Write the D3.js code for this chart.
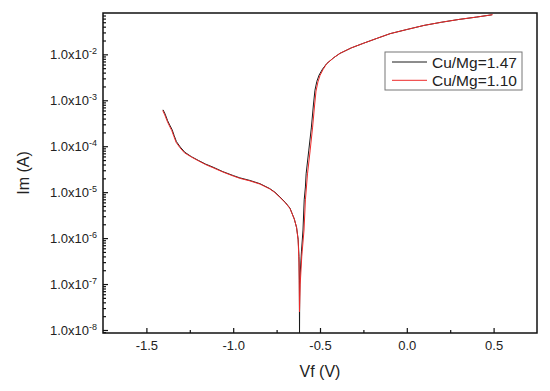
<!DOCTYPE html>
<html lang="en">
<head>
    <meta charset="UTF-8">
    <script src="https://d3js.org/d3.v7.min.js"></script>
    <style>
        body { margin: 0; background: #fff; }
        svg { font-family: "Liberation Sans", Arial, sans-serif; }
    </style>
</head>
<body>
    <svg width="550" height="391"></svg>
    <script>
        // black curve, Cu/Mg=1.47
        var vBlack = [-1.404, -1.392, -1.378, -1.366, -1.352, -1.340, -1.327, -1.305, -1.279, -1.24, -1.20, -1.16, -1.116, -1.06, -1.00, -0.962, -0.904, -0.846, -0.79, -0.76, -0.731, -0.700, -0.673, -0.648, -0.635, -0.626, -0.621, -0.619, -0.618,
                      -0.617, -0.616, -0.607, -0.598, -0.591, -0.584, -0.580, -0.565, -0.550, -0.538, -0.529, -0.518, -0.505, -0.485, -0.461, -0.42, -0.385, -0.32, -0.25, -0.17, -0.096, 0.0, 0.1, 0.2, 0.3, 0.4, 0.49];
        var iBlack = [6.2e-4, 5.0e-4, 3.6e-4, 2.9e-4, 2.3e-4, 1.7e-4, 1.26e-4, 9.6e-5, 7.4e-5, 5.9e-5, 4.9e-5, 4.1e-5, 3.5e-5, 2.8e-5, 2.3e-5, 2.05e-5, 1.8e-5, 1.53e-5, 1.2e-5, 1.0e-5, 7.9e-6, 6.0e-6, 4.5e-6, 2.6e-6, 1.7e-6, 9.5e-7, 4.0e-7, 1.2e-7, 7.0e-9,
                      5.0e-8, 1.26e-7, 5.0e-7, 1.5e-6, 6.8e-6, 1.3e-5, 2.5e-5, 7.9e-5, 2.5e-4, 7.9e-4, 1.66e-3, 2.6e-3, 3.55e-3, 4.8e-3, 6.3e-3, 8.5e-3, 1.05e-2, 1.38e-2, 1.74e-2, 2.24e-2, 2.82e-2, 3.47e-2, 4.27e-2, 5.0e-2, 5.75e-2, 6.46e-2, 7.24e-2];

        // red curve, Cu/Mg=1.10
        var vRed = [-1.406, -1.394, -1.380, -1.368, -1.354, -1.342, -1.329, -1.307, -1.281, -1.24, -1.20, -1.16, -1.116, -1.06, -1.00, -0.962, -0.904, -0.846, -0.79, -0.76, -0.731, -0.700, -0.673, -0.648, -0.635, -0.626, -0.621, -0.618,
                    -0.614, -0.605, -0.592, -0.584, -0.572, -0.557, -0.543, -0.531, -0.523, -0.512, -0.500, -0.482, -0.461, -0.42, -0.385, -0.32, -0.25, -0.17, -0.096, 0.0, 0.1, 0.2, 0.3, 0.4, 0.495];
        var iRed = [6.0e-4, 4.8e-4, 3.5e-4, 2.8e-4, 2.2e-4, 1.65e-4, 1.22e-4, 9.3e-5, 7.2e-5, 5.8e-5, 4.8e-5, 4.0e-5, 3.4e-5, 2.75e-5, 2.25e-5, 2.0e-5, 1.76e-5, 1.5e-5, 1.18e-5, 9.8e-6, 7.7e-6, 5.9e-6, 4.4e-6, 2.6e-6, 1.7e-6, 9.0e-7, 3.0e-7, 2.5e-8,
                    1.0e-7, 4.0e-7, 1.5e-6, 6.8e-6, 2.5e-5, 7.9e-5, 2.5e-4, 7.9e-4, 1.58e-3, 2.5e-3, 3.47e-3, 4.7e-3, 6.3e-3, 8.5e-3, 1.05e-2, 1.38e-2, 1.74e-2, 2.24e-2, 2.82e-2, 3.47e-2, 4.27e-2, 5.0e-2, 5.75e-2, 6.46e-2, 7.3e-2];

        var xTicks = [-1.5, -1.0, -0.5, 0.0, 0.5];
        var xMinor = [-1.25, -0.75, -0.25, 0.25];
        var yTicks = [1e-8, 1e-7, 1e-6, 1e-5, 1e-4, 1e-3, 1e-2];
        var yExp = ["-8", "-7", "-6", "-5", "-4", "-3", "-2"];
        var seriesNames = ["Cu/Mg=1.47", "Cu/Mg=1.10"];
        var seriesColors = ["#1a1a1a", "#ee2a2a"];

        var svg = d3.select("svg");
        var pLeft = 103, pRight = 537, pTop = 13, pBottom = 333;

        var x = d3.scaleLinear().domain([-1.75, 0.75]).range([pLeft, pRight]);
        var y = d3.scaleLog().domain([8.6e-9, 7.94e-2]).range([pBottom, pTop]);

        // minor y ticks 2..9 per decade
        var yMinor = [];
        for (var e = -9; e <= -2; e++) {
            for (var m = 2; m <= 9; m++) {
                var v = m * Math.pow(10, e);
                if (v > 8.6e-9 && v < 7.94e-2) yMinor.push(v);
            }
        }

        svg.append("clipPath").attr("id", "clip")
            .append("rect").attr("x", pLeft).attr("y", pTop)
            .attr("width", pRight - pLeft).attr("height", pBottom - pTop);

        // frame
        svg.append("rect")
            .attr("x", pLeft).attr("y", pTop)
            .attr("width", pRight - pLeft).attr("height", pBottom - pTop)
            .attr("fill", "none").attr("stroke", "#111").attr("stroke-width", 1.5);

        // x axis
        var gx = svg.append("g").attr("transform", "translate(0," + pBottom + ")");
        gx.call(d3.axisBottom(x).tickValues(xTicks).tickSize(-5).tickPadding(8)
            .tickFormat(function(d) { return d3.format(".1f")(d).replace("−", "-"); }));
        gx.append("g").call(d3.axisBottom(x).tickValues(xMinor).tickSize(-3).tickFormat(""));
        svg.selectAll(".domain").remove();

        // y axis
        var gy = svg.append("g").attr("transform", "translate(" + pLeft + ",0)");
        gy.call(d3.axisLeft(y).tickValues(yTicks).tickSize(-5).tickPadding(6));
        gy.append("g").call(d3.axisLeft(y).tickValues(yMinor).tickSize(-3).tickFormat(""));
        gy.selectAll(".domain").remove();

        gy.selectAll(".tick text").each(function(d, i) {
            var t = d3.select(this);
            if (t.text() === "") return;
            var k = yTicks.indexOf(d);
            t.text("");
            t.append("tspan").text("1.0x10");
            t.append("tspan").attr("dy", "-5").attr("font-size", "9px").text(yExp[k]);
        });

        svg.selectAll(".tick line").attr("stroke", "#111").attr("stroke-width", 1.2);
        svg.selectAll(".tick text").attr("font-size", "13px").attr("fill", "#222")
            .attr("font-family", "'Liberation Sans', Arial, sans-serif");

        // axis labels
        svg.append("text")
            .attr("x", (pLeft + pRight) / 2).attr("y", 377)
            .attr("text-anchor", "middle").attr("font-size", "16px").attr("fill", "#222")
            .text("Vf (V)");

        svg.append("text")
            .attr("transform", "translate(29," + ((pTop + pBottom) / 2) + ") rotate(-90)")
            .attr("text-anchor", "middle").attr("font-size", "16px").attr("fill", "#222")
            .text("Im (A)");

        // curves
        var line = d3.line()
            .x(function(d) { return x(d[0]); })
            .y(function(d) { return y(d[1]); });

        var curves = [d3.zip(vBlack, iBlack), d3.zip(vRed, iRed)];
        var gc = svg.append("g").attr("clip-path", "url(#clip)");
        curves.forEach(function(c, i) {
            gc.append("path")
                .datum(c)
                .attr("d", line)
                .attr("fill", "none")
                .attr("stroke", seriesColors[i])
                .attr("stroke-width", 1);
        });

        // legend
        var lg = svg.append("g").attr("transform", "translate(385,52)");
        lg.append("rect").attr("width", 137).attr("height", 38)
            .attr("fill", "#fff").attr("stroke", "#777").attr("stroke-width", 1);
        seriesNames.forEach(function(name, i) {
            var ly = 10 + i * 18.3;
            lg.append("line").attr("x1", 7).attr("x2", 42).attr("y1", ly).attr("y2", ly)
                .attr("stroke", seriesColors[i]).attr("stroke-width", 1);
            lg.append("text").attr("x", 47).attr("y", ly + 5.5)
                .attr("font-size", "15.5px").attr("fill", "#222").text(name);
        });
    </script>
</body>
</html>
